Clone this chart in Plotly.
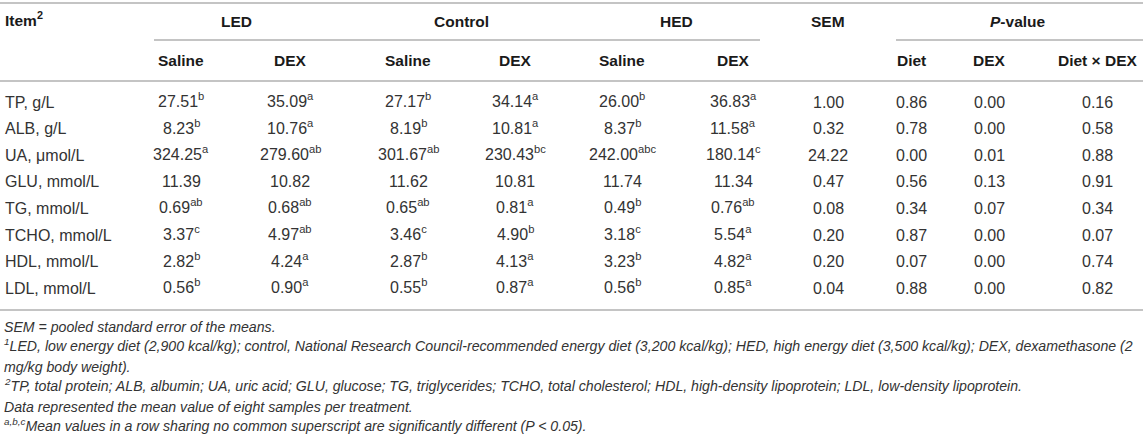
import plotly.graph_objects as go

# ---------------- data ----------------
items = ["TP, g/L", "ALB, g/L", "UA, \u03bcmol/L", "GLU, mmol/L", "TG, mmol/L",
         "TCHO, mmol/L", "HDL, mmol/L", "LDL, mmol/L"]

groups = ["LED", "Control", "HED"]
sub_headers = ["Saline", "DEX", "Saline", "DEX", "Saline", "DEX"]
pvalue_headers = ["Diet", "DEX", "Diet \u00d7 DEX"]

led_saline = ["27.51", "8.23", "324.25", "11.39", "0.69", "3.37", "2.82", "0.56"]
led_saline_sup = ["b", "b", "a", "", "ab", "c", "b", "b"]
led_dex = ["35.09", "10.76", "279.60", "10.82", "0.68", "4.97", "4.24", "0.90"]
led_dex_sup = ["a", "a", "ab", "", "ab", "ab", "a", "a"]
ctl_saline = ["27.17", "8.19", "301.67", "11.62", "0.65", "3.46", "2.87", "0.55"]
ctl_saline_sup = ["b", "b", "ab", "", "ab", "c", "b", "b"]
ctl_dex = ["34.14", "10.81", "230.43", "10.81", "0.81", "4.90", "4.13", "0.87"]
ctl_dex_sup = ["a", "a", "bc", "", "a", "b", "a", "a"]
hed_saline = ["26.00", "8.37", "242.00", "11.74", "0.49", "3.18", "3.23", "0.56"]
hed_saline_sup = ["b", "b", "abc", "", "b", "c", "b", "b"]
hed_dex = ["36.83", "11.58", "180.14", "11.34", "0.76", "5.54", "4.82", "0.85"]
hed_dex_sup = ["a", "a", "c", "", "ab", "a", "a", "a"]
sem = ["1.00", "0.32", "24.22", "0.47", "0.08", "0.20", "0.20", "0.04"]
p_diet = ["0.86", "0.78", "0.00", "0.56", "0.34", "0.87", "0.07", "0.88"]
p_dex = ["0.00", "0.00", "0.01", "0.13", "0.07", "0.00", "0.00", "0.00"]
p_inter = ["0.16", "0.58", "0.88", "0.91", "0.34", "0.07", "0.74", "0.82"]

footnotes = [
    "<i>SEM = pooled standard error of the means.</i>",
    "<i><sup>1</sup>LED, low energy diet (2,900 kcal/kg); control, National Research Council-recommended energy diet (3,200 kcal/kg); HED, high energy diet (3,500 kcal/kg); DEX, dexamethasone (2</i>",
    "<i>mg/kg body weight).</i>",
    "<i><sup>2</sup>TP, total protein; ALB, albumin; UA, uric acid; GLU, glucose; TG, triglycerides; TCHO, total cholesterol; HDL, high-density lipoprotein; LDL, low-density lipoprotein.</i>",
    "<i>Data represented the mean value of eight samples per treatment.</i>",
    "<i><sup>a,b,c</sup>Mean values in a row sharing no common superscript are significantly different (P &lt; 0.05).</i>",
]

# ---------------- layout constants ----------------
W, H = 1143, 438
FONT = "Liberation Sans, Arial, sans-serif"
TXT = "#333333"
HDR = "#1a1a1a"
LINE = "#c4c4c4"
BODY_SIZE, HDR_SIZE, FOOT_SIZE = 16, 15.5, 14.15

col_x = [181, 290, 408, 515, 622, 733, 828, 911, 989, 1097]
group_x = [236, 461, 676]
sem_x = 828
pval_x = 1018
row_y0, row_dy = 102, 26.6
y_top, y_grp, y_uline, y_sub, y_hline = 3, 21, 40, 60, 81
y_bottom = 310
foot_y0, foot_dy = 327, 20

fig = go.Figure()
fig.add_trace(go.Scatter(x=[0, W], y=[0, H], mode="markers",
                         marker=dict(opacity=0), hoverinfo="skip", showlegend=False))

ann = []

def add(x, y, text, size=BODY_SIZE, color=TXT, xanchor="center"):
    shift = 2 if "<sup>" in text else 0
    ann.append(dict(x=x, y=y, text=text, xref="x", yref="y", showarrow=False,
                    xanchor=xanchor, yanchor="middle", yshift=shift,
                    font=dict(family=FONT, size=size, color=color)))

# header
add(3, y_grp, "<b>Item<sup>2</sup></b>", size=HDR_SIZE, color=HDR, xanchor="left")
for gx, g in zip(group_x, groups):
    add(gx, y_grp, f"<b>{g}</b>", size=HDR_SIZE, color=HDR)
add(sem_x, y_grp, "<b>SEM</b>", size=HDR_SIZE, color=HDR)
add(pval_x, y_grp, "<b><i>P</i>-value</b>", size=HDR_SIZE, color=HDR)
for cx, s in zip(col_x[:6], sub_headers):
    add(cx, y_sub, f"<b>{s}</b>", size=HDR_SIZE, color=HDR)
for cx, s in zip(col_x[7:], pvalue_headers):
    add(cx, y_sub, f"<b>{s}</b>", size=HDR_SIZE, color=HDR)

# body
value_cols = [
    (led_saline, led_saline_sup), (led_dex, led_dex_sup),
    (ctl_saline, ctl_saline_sup), (ctl_dex, ctl_dex_sup),
    (hed_saline, hed_saline_sup), (hed_dex, hed_dex_sup),
]
for i, item in enumerate(items):
    y = row_y0 + i * row_dy
    add(3, y, item, xanchor="left")
    for cx, (vals, sups) in zip(col_x[:6], value_cols):
        t = vals[i] + (f"<sup>{sups[i]}</sup>" if sups[i] else "")
        add(cx, y, t)
    add(col_x[6], y, sem[i])
    add(col_x[7], y, p_diet[i])
    add(col_x[8], y, p_dex[i])
    add(col_x[9], y, p_inter[i])

# footnotes
for k, f in enumerate(footnotes):
    add(2, foot_y0 + k * foot_dy, f, size=FOOT_SIZE, xanchor="left")

shapes = [
    dict(type="line", x0=0, x1=W, y0=y_top, y1=y_top),
    dict(type="line", x0=154, x1=760, y0=y_uline, y1=y_uline),
    dict(type="line", x0=896, x1=W, y0=y_uline, y1=y_uline),
    dict(type="line", x0=0, x1=W, y0=y_hline, y1=y_hline),
    dict(type="line", x0=0, x1=W, y0=y_bottom, y1=y_bottom),
]
for s in shapes:
    s.update(xref="x", yref="y", line=dict(color=LINE, width=2))

fig.update_layout(
    width=W, height=H, margin=dict(l=0, r=0, t=0, b=0),
    paper_bgcolor="white", plot_bgcolor="white",
    annotations=ann, shapes=shapes,
    xaxis=dict(range=[0, W], visible=False, fixedrange=True),
    yaxis=dict(range=[H, 0], visible=False, fixedrange=True),
)
fig.write_html("out.html",
               config={"displayModeBar": False, "staticPlot": True},
               post_script="document.body.style.margin='0px';document.body.style.overflow='hidden';")
